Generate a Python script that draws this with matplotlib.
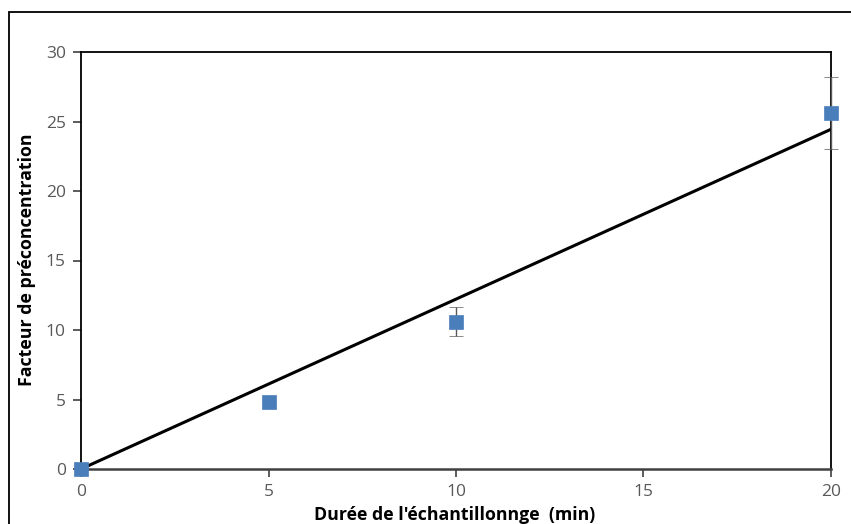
import matplotlib
matplotlib.use("Agg")
import matplotlib.pyplot as plt
from matplotlib.patches import Rectangle
import numpy as np

x_vals = [0, 5, 10, 20]
y_vals = [0.0, 4.85, 10.6, 25.6]
y_err = [0.0, 0.15, 1.05, 2.6]
fit_x = [0, 20]
fit_slope = 1.222
x_ticks = [0, 5, 10, 15, 20]
y_ticks = [0, 5, 10, 15, 20, 25, 30]
xlabel = "Durée de l'échantillonnge  (min)"
ylabel = "Facteur de préconcentration"

plt.rcParams['font.family'] = ['Open Sans', 'DejaVu Sans']

W, H = 851, 524
fig = plt.figure(figsize=(W/100, H/100), dpi=100)
fig.patch.set_facecolor('white')

# outer chart frame
fig.patches.append(Rectangle((9/W, -0.05), 1.1, (H-12)/H + 0.05, transform=fig.transFigure,
                             fill=False, edgecolor='black', linewidth=1.3))

left, right, top, bottom = 81, 831, 52, 469
ax = fig.add_axes([left/W, 1-bottom/H, (right-left)/W, (bottom-top)/H])

fx = np.array(fit_x, dtype=float)
ax.plot(fx, fit_slope*fx, color='black', lw=2.2, zorder=2)
ax.errorbar(x_vals, y_vals, yerr=y_err, fmt='s', color='#4a7ebb', ecolor='#595959',
            elinewidth=1.0, capsize=5, capthick=1.0, markersize=9.5, markeredgewidth=0.5,
            markeredgecolor='#4a7ebb', zorder=3, clip_on=False)

ax.set_xlim(0, 20)
ax.set_ylim(0, 30)
ax.set_xticks(x_ticks)
ax.set_yticks(y_ticks)
ax.tick_params(axis='both', direction='out', length=6, width=1.2, color='#404040',
               labelcolor='#595959', labelsize=12.5)
ax.tick_params(axis='x', pad=5)
ax.tick_params(axis='y', pad=5)
for s in ['left', 'right', 'top']:
    ax.spines[s].set_color('black')
    ax.spines[s].set_linewidth(1.3)
ax.spines['bottom'].set_color('#404040')
ax.spines['bottom'].set_linewidth(1.8)

fig.text(455/W, 1-515/H, xlabel, ha='center', va='center', fontsize=12.8, fontweight='bold', color='black')
fig.text(27/W, 1-260/H, ylabel, ha='center', va='center', rotation=90, fontsize=12.8,
         fontweight='bold', color='black')

fig.savefig('out.png', dpi=100, facecolor='white')
